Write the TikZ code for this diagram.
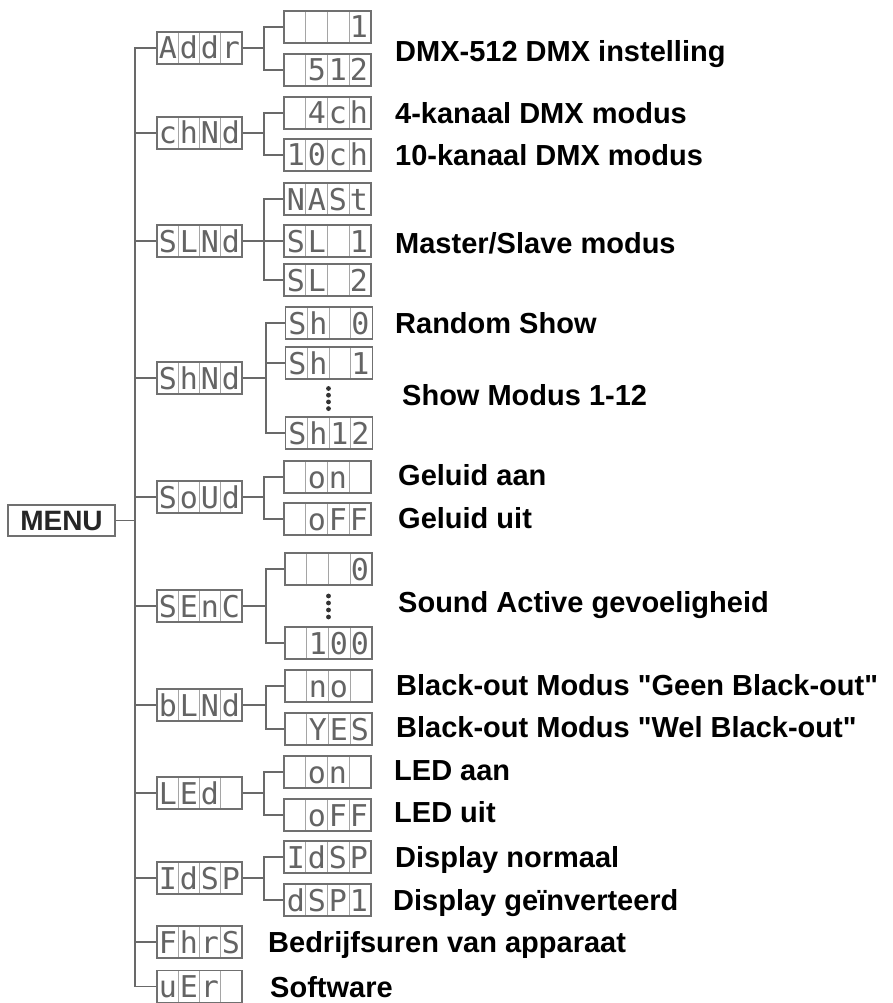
\documentclass[tikz,border=0pt]{standalone}
\usepackage{fontspec}
\setmainfont{Liberation Sans}[Ligatures=TeXOff]
\newfontfamily\lcdfont{DejaVu Sans Mono}
\usetikzlibrary{calc}
\definecolor{linegray}{RGB}{105,105,105}
\definecolor{boxgray}{RGB}{112,112,112}
\definecolor{cellgray}{RGB}{165,165,165}
\definecolor{seggray}{RGB}{100,100,100}
\newcommand\lcdtxt[4]{\makebox[21pt]{#1}\makebox[21pt]{#2}\makebox[21pt]{#3}\makebox[21pt]{#4}}
\tikzset{
  conn/.style={draw=linegray, line width=1.4pt},
  lcdbox/.style={draw=boxgray, line width=1.6pt, inner sep=0pt, minimum height=32pt,
    text height=22pt, text depth=0pt,
    font=\lcdfont\fontsize{30}{30}\selectfont, text=seggray,
    path picture={\foreach \f in {0.25,0.5,0.75}{\draw[cellgray,line width=1pt]
      ($(path picture bounding box.south west)!\f!(path picture bounding box.south east)$) --
      ($(path picture bounding box.north west)!\f!(path picture bounding box.north east)$);}}},
  lone/.style={lcdbox, minimum width=85pt},
  ltwo/.style={lcdbox, minimum width=87pt},
  lbl/.style={anchor=base west, inner sep=0pt, font=\bfseries\fontsize{29}{29}\selectfont},
  dotmark/.style={fill=black!80},
}
\begin{document}
\begin{tikzpicture}[x=1pt,y=-1pt]
\useasboundingbox (0,0) rectangle (893,1003);
\fill[white] (0,0) rectangle (893,1003);

% MENU
\node[draw=boxgray, line width=1.6pt, minimum width=107pt, minimum height=31pt, inner sep=0pt,
  text height=20pt, text depth=0pt, font=\bfseries\fontsize{28}{28}\selectfont, text=black!85]
  (menu) at (61.5,520.5) {MENU};

% level 1
\node[lone] (addr) at (199.5,48)  {\lcdtxt{A}{d}{d}{r}};
\node[lone] (chnd) at (199.5,133) {\lcdtxt{c}{h}{N}{d}};
\node[lone] (slnd) at (199.5,241) {\lcdtxt{S}{L}{N}{d}};
\node[lone] (shnd) at (199.5,378) {\lcdtxt{S}{h}{N}{d}};
\node[lone] (soud) at (199.5,497) {\lcdtxt{S}{o}{U}{d}};
\node[lone] (senc) at (199.5,606) {\lcdtxt{S}{E}{n}{C}};
\node[lone] (blnd) at (199.5,705) {\lcdtxt{b}{L}{N}{d}};
\node[lone] (led)  at (199.5,793) {\lcdtxt{L}{E}{d}{}};
\node[lone] (idsp) at (199.5,878) {\lcdtxt{I}{d}{S}{P}};
\node[lone] (fhrs) at (199.5,942) {\lcdtxt{F}{h}{r}{S}};
\node[lone] (uer)  at (199.5,986.5) {\lcdtxt{u}{E}{r}{}};

% level 2
\node[ltwo] (a1) at (327.5,27)  {\lcdtxt{}{}{}{1}};
\node[ltwo] (a2) at (327.5,70)  {\lcdtxt{}{5}{1}{2}};
\node[ltwo] (c1) at (327.5,113) {\lcdtxt{}{4}{c}{h}};
\node[ltwo] (c2) at (327.5,155) {\lcdtxt{1}{0}{c}{h}};
\node[ltwo] (s1) at (327.5,199) {\lcdtxt{N}{A}{S}{t}};
\node[ltwo] (s2) at (327.5,241) {\lcdtxt{S}{L}{}{1}};
\node[ltwo] (s3) at (327.5,280) {\lcdtxt{S}{L}{}{2}};
\node[ltwo] (h1) at (329,323) {\lcdtxt{S}{h}{}{0}};
\node[ltwo] (h2) at (329,363) {\lcdtxt{S}{h}{}{1}};
\node[ltwo] (h3) at (329,433) {\lcdtxt{S}{h}{1}{2}};
\node[ltwo] (o1) at (327.5,477) {\lcdtxt{}{o}{n}{}};
\node[ltwo] (o2) at (327.5,519) {\lcdtxt{}{o}{F}{F}};
\node[ltwo] (e1) at (328.5,569) {\lcdtxt{}{}{}{0}};
\node[ltwo] (e2) at (328.5,643) {\lcdtxt{}{1}{0}{0}};
\node[ltwo] (b1) at (328.5,686) {\lcdtxt{}{n}{o}{}};
\node[ltwo] (b2) at (328.5,729) {\lcdtxt{}{Y}{E}{S}};
\node[ltwo] (l1) at (327.5,772) {\lcdtxt{}{o}{n}{}};
\node[ltwo] (l2) at (327.5,815) {\lcdtxt{}{o}{F}{F}};
\node[ltwo] (d1) at (327.5,857) {\lcdtxt{I}{d}{S}{P}};
\node[ltwo] (d2) at (327.5,900) {\lcdtxt{d}{S}{P}{1}};

% dots
\foreach \yy in {388.5,395.2,401.9,408.6} \fill[dotmark] (328.5,\yy) circle (2.4pt);
\foreach \yy in {596,603,610,617} \fill[dotmark] (328.5,\yy) circle (2.4pt);

% trunk
\coordinate (trunk) at (135,520.5);
\draw[conn] (menu.east) -- (trunk);
\foreach \n in {addr,chnd,slnd,shnd,soud,senc,blnd,led,idsp,fhrs,uer}
  \draw[conn] (trunk) |- (\n.west);

% forks
\draw[conn] (addr.east) -- ++(21,0) coordinate (faddr);
\draw[conn] (faddr) |- (a1.west); \draw[conn] (faddr) |- (a2.west);
\draw[conn] (chnd.east) -- ++(21,0) coordinate (fchnd);
\draw[conn] (fchnd) |- (c1.west); \draw[conn] (fchnd) |- (c2.west);
\draw[conn] (slnd.east) -- ++(21,0) coordinate (fslnd);
\draw[conn] (fslnd) |- (s1.west); \draw[conn] (fslnd) |- (s2.west); \draw[conn] (fslnd) |- (s3.west);
\draw[conn] (shnd.east) -- ++(23,0) coordinate (fshnd);
\draw[conn] (fshnd) |- (h1.west); \draw[conn] (fshnd) |- (h2.west); \draw[conn] (fshnd) |- (h3.west);
\draw[conn] (soud.east) -- ++(21,0) coordinate (fsoud);
\draw[conn] (fsoud) |- (o1.west); \draw[conn] (fsoud) |- (o2.west);
\draw[conn] (senc.east) -- ++(23,0) coordinate (fsenc);
\draw[conn] (fsenc) |- (e1.west); \draw[conn] (fsenc) |- (e2.west);
\draw[conn] (blnd.east) -- ++(23,0) coordinate (fblnd);
\draw[conn] (fblnd) |- (b1.west); \draw[conn] (fblnd) |- (b2.west);
\draw[conn] (led.east) -- ++(21,0) coordinate (fled);
\draw[conn] (fled) |- (l1.west); \draw[conn] (fled) |- (l2.west);
\draw[conn] (idsp.east) -- ++(21,0) coordinate (fidsp);
\draw[conn] (fidsp) |- (d1.west); \draw[conn] (fidsp) |- (d2.west);

% labels
\node[lbl] (t1)  at (395,62)  {DMX-512 DMX instelling};
\node[lbl] (t2)  at (395,124) {4-kanaal DMX modus};
\node[lbl] (t3)  at (395,166) {10-kanaal DMX modus};
\node[lbl] (t4)  at (395,253) {Master/Slave modus};
\node[lbl] (t5)  at (395,333) {Random Show};
\node[lbl] (t6)  at (402,405) {Show Modus 1-12};
\node[lbl] (t7)  at (398,485) {Geluid aan};
\node[lbl] (t8)  at (398,528) {Geluid uit};
\node[lbl] (t9)  at (398,612) {Sound Active gevoeligheid};
\node[lbl] (t10) at (396,695) {Black-out Modus "Geen Black-out"};
\node[lbl] (t11) at (396,737) {Black-out Modus "Wel Black-out"};
\node[lbl] (t12) at (394,780) {LED aan};
\node[lbl] (t13) at (394,822) {LED uit};
\node[lbl] (t14) at (395,867) {Display normaal};
\node[lbl] (t15) at (393,910) {Display geïnverteerd};
\node[lbl] (t16) at (268,952) {Bedrijfsuren van apparaat};
\node[lbl] (t17) at (270,997) {Software};
\end{tikzpicture}
\end{document}
